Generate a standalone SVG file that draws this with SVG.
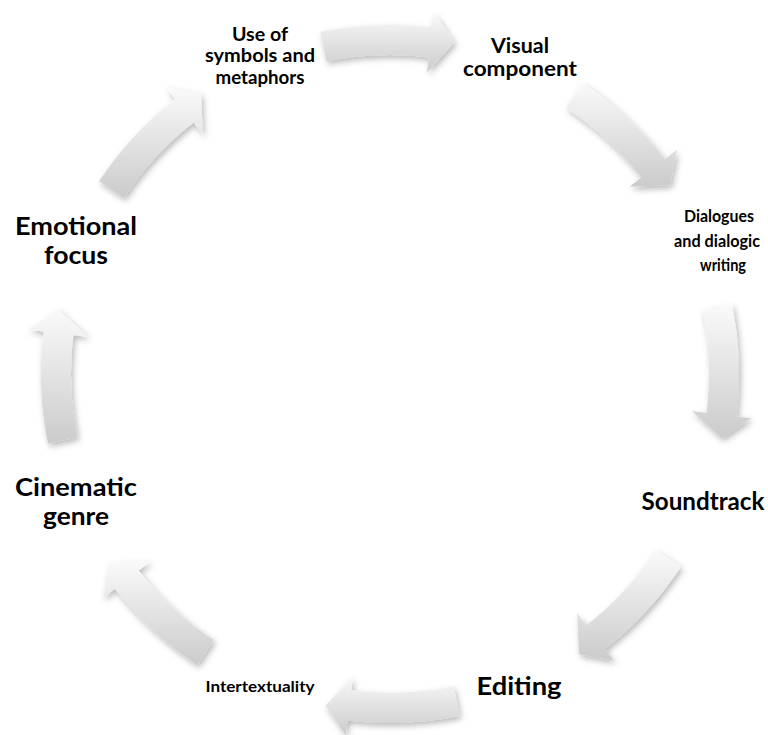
<svg xmlns="http://www.w3.org/2000/svg" width="768" height="735" viewBox="0 0 768 735">
  <style>
    .lbl { font-family: Lato, "Liberation Sans", "DejaVu Sans", sans-serif; font-weight: bold; fill: #000; text-anchor: middle; }
    .big { font-size: 25px; }
    .arrow { fill: url(#arrowGrad); filter: url(#shadow); }
  </style>
  <defs>
    <linearGradient id="arrowGrad" x1="0" y1="0" x2="0" y2="1">
      <stop offset="0" stop-color="#fafafa"/>
      <stop offset="1" stop-color="#cbcbcb"/>
    </linearGradient>
    <filter id="shadow" x="-30%" y="-30%" width="160%" height="160%">
      <feDropShadow dx="2" dy="3" stdDeviation="3" flood-color="#000" flood-opacity="0.28"/>
    </filter>
  </defs>
  <rect width="768" height="735" fill="#fff"/>

  <g id="connectors">
    <path class="arrow" d="M320.42,32.01 A349,349 0 0 1 432.53,27.60 L434.36,12.71 L454.49,42.21 L427.05,72.26 L428.88,57.38 A319,319 0 0 0 326.40,61.41 Z"/>
    <path class="arrow" d="M582.63,82.97 A349,349 0 0 1 665.02,159.13 L676.84,149.90 L670.22,184.99 L629.56,186.84 L641.38,177.60 A319,319 0 0 0 566.07,107.99 Z"/>
    <path class="arrow" d="M731.99,304.42 A349,349 0 0 1 736.40,416.53 L751.29,418.36 L721.79,438.49 L691.74,411.05 L706.62,412.88 A319,319 0 0 0 702.59,310.40 Z"/>
    <path class="arrow" d="M681.03,566.63 A349,349 0 0 1 604.87,649.02 L614.10,660.84 L579.01,654.22 L577.16,613.56 L586.40,625.38 A319,319 0 0 0 656.01,550.07 Z"/>
    <path class="arrow" d="M459.58,715.99 A349,349 0 0 1 347.47,720.40 L345.64,735.29 L325.51,705.79 L352.95,675.74 L351.12,690.62 A319,319 0 0 0 453.60,686.59 Z"/>
    <path class="arrow" d="M197.37,665.03 A349,349 0 0 1 114.98,588.87 L103.16,598.10 L109.78,563.01 L150.44,561.16 L138.62,570.40 A319,319 0 0 0 213.93,640.01 Z"/>
    <path class="arrow" d="M48.01,443.58 A349,349 0 0 1 43.60,331.47 L28.71,329.64 L58.21,309.51 L88.26,336.95 L73.38,335.12 A319,319 0 0 0 77.41,437.60 Z"/>
    <path class="arrow" d="M98.97,181.37 A349,349 0 0 1 175.13,98.98 L165.90,87.16 L200.99,93.78 L202.84,134.44 L193.60,122.62 A319,319 0 0 0 123.99,197.93 Z"/>
  </g>

  <g id="node-symbols">
    <text class="lbl" style="font-size:19px" x="260" y="41" textLength="56" lengthAdjust="spacingAndGlyphs">Use of</text>
    <text class="lbl" style="font-size:19px" x="260" y="62" textLength="110" lengthAdjust="spacingAndGlyphs">symbols and</text>
    <text class="lbl" style="font-size:19px" x="260" y="84" textLength="89" lengthAdjust="spacingAndGlyphs">metaphors</text>
  </g>
  <g id="node-visual">
    <text class="lbl" style="font-size:21px" x="520" y="53" textLength="58" lengthAdjust="spacingAndGlyphs">Visual</text>
    <text class="lbl" style="font-size:21px" x="520" y="76" textLength="114" lengthAdjust="spacingAndGlyphs">component</text>
  </g>
  <g id="node-dialogues">
    <text class="lbl" style="font-size:17px" x="719" y="222" textLength="70" lengthAdjust="spacingAndGlyphs">Dialogues</text>
    <text class="lbl" style="font-size:17px" x="717" y="247" textLength="86" lengthAdjust="spacingAndGlyphs">and dialogic</text>
    <text class="lbl" style="font-size:17px" x="723" y="271" textLength="46" lengthAdjust="spacingAndGlyphs">writing</text>
  </g>
  <g id="node-soundtrack">
    <text class="lbl" style="font-size:24px" x="703" y="510" textLength="123" lengthAdjust="spacingAndGlyphs">Soundtrack</text>
  </g>
  <g id="node-editing">
    <text class="lbl big" x="519" y="695" textLength="85" lengthAdjust="spacingAndGlyphs">Editing</text>
  </g>
  <g id="node-intertextuality">
    <text class="lbl" style="font-size:16px" x="260" y="692" textLength="109" lengthAdjust="spacingAndGlyphs">Intertextuality</text>
  </g>
  <g id="node-cinematic">
    <text class="lbl big" x="76" y="496" textLength="122" lengthAdjust="spacingAndGlyphs">Cinematic</text>
    <text class="lbl big" x="76" y="525" textLength="66" lengthAdjust="spacingAndGlyphs">genre</text>
  </g>
  <g id="node-emotional">
    <text class="lbl big" x="76" y="235" textLength="122" lengthAdjust="spacingAndGlyphs">Emotional</text>
    <text class="lbl big" x="76" y="264" textLength="64" lengthAdjust="spacingAndGlyphs">focus</text>
  </g>
</svg>
